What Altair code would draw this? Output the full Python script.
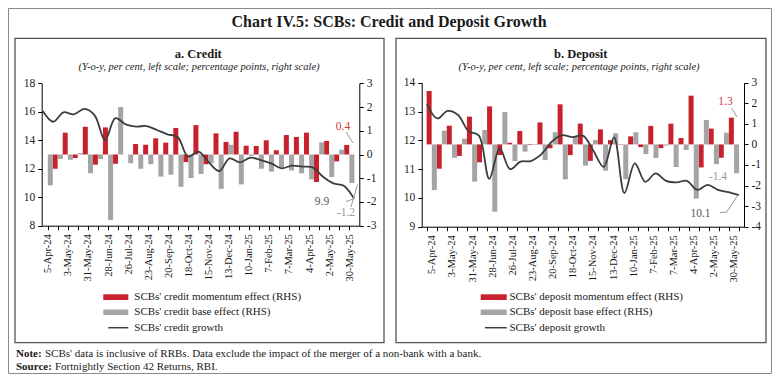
import altair as alt
import pandas as pd

# ---------------- data ----------------
dates = ['5-Apr-24', '19-Apr-24', '3-May-24', '17-May-24', '31-May-24', '14-Jun-24',
         '28-Jun-24', '12-Jul-24', '26-Jul-24', '9-Aug-24', '23-Aug-24', '6-Sep-24',
         '20-Sep-24', '4-Oct-24', '18-Oct-24', '1-Nov-24', '15-Nov-24', '29-Nov-24',
         '13-Dec-24', '27-Dec-24', '10-Jan-25', '24-Jan-25', '7-Feb-25', '21-Feb-25',
         '7-Mar-25', '21-Mar-25', '4-Apr-25', '18-Apr-25', '2-May-25', '16-May-25',
         '30-May-25']

credit_momentum = [None, -0.6, 0.92, -0.15, 1.17, -0.43, 1.14, -0.39, 0.0, 0.44, 0.41,
                   0.68, 0.5, 1.12, -0.32, 1.24, -0.41, 0.89, 0.53, 0.96, 0.37, 0.36,
                   0.6, 0.18, 0.82, 0.74, 0.92, -1.16, 0.57, -0.29, 0.4]
credit_base = [-1.3, -0.19, -0.22, 0.06, -0.79, -0.19, -2.76, 2.0, -0.37, -0.6, -0.41,
               -0.93, -0.85, -1.36, -0.99, -0.82, -0.37, -1.45, 0.41, -1.26, -0.06, -0.6,
               -0.72, -0.55, -0.67, -0.79, -1.05, 0.51, -0.95, 0.2, -1.2]
credit_growth = [16.05, 15.3, 15.96, 15.82, 16.2, 15.75, 14.0, 15.55, 15.12, 14.96, 15.0,
                 14.72, 14.42, 14.23, 12.85, 13.2, 12.45, 11.84, 12.73, 12.45, 12.78, 12.61,
                 12.38, 12.03, 12.22, 12.15, 12.1, 11.44, 10.97, 10.81, 9.9]

deposit_momentum = [2.6, -1.18, 0.91, -0.56, 1.35, -0.87, 1.85, -0.52, 0.08, 0.65, -0.03,
                    1.07, -0.19, 1.95, -0.52, 1.01, -0.8, 0.73, 0.21, -0.02, 0.39, -0.13,
                    0.9, -0.18, 1.01, 0.31, 2.37, -1.12, 0.77, -0.65, 1.3]
deposit_base = [-2.22, 0.67, -0.65, 0.28, -1.81, 0.7, -3.27, 1.57, -0.81, -0.35, -0.03,
                -0.76, 0.59, -1.7, 0.38, -1.03, 0.21, -1.28, 0.54, -1.69, 0.59, -0.47,
                -0.66, -0.06, -1.1, -0.27, -2.63, 1.19, -0.96, 0.57, -1.4]
deposit_growth = [13.25, 12.76, 13.02, 12.88, 12.32, 12.16, 10.66, 11.72, 11.0, 11.26, 11.28,
                  11.51, 11.95, 12.18, 12.11, 12.16, 11.65, 11.08, 12.1, 10.17, 11.2, 10.56,
                  10.85, 10.59, 10.54, 10.59, 10.28, 10.45, 10.28, 10.2, 10.1]

# ---------------- styling ----------------
W, H = 764, 366
RED = '#c8202d'
GRAY = '#a4a4a4'
LINE = '#3c3c3c'
FONT = 'Liberation Serif'
TXT = '#1a1a1a'

credit = pd.DataFrame({'idx': list(range(len(dates))), 'date': dates,
                       'mom': credit_momentum, 'base': credit_base, 'growth': credit_growth})
deposit = pd.DataFrame({'idx': list(range(len(dates))), 'date': dates,
                        'mom': deposit_momentum, 'base': deposit_base, 'growth': deposit_growth})
one = pd.DataFrame({'a': [0]})

label_expr = "[" + ",".join("'%s'" % d for d in dates) + "][datum.value]"
num_expr = "datum.value < 0 ? '-' + abs(datum.value) : '' + datum.value"


def panel(df, x_dom, x_rng, yl_dom, yr_dom, y_rng, yl_vals, yr_vals, tick_vals,
          off_left, off_right, off_x):
    xs = alt.Scale(domain=x_dom, range=x_rng, nice=False, zero=False)
    ysl = alt.Scale(domain=yl_dom, range=y_rng, nice=False, zero=False)
    ysr = alt.Scale(domain=yr_dom, range=y_rng, nice=False, zero=False)
    ax_labels = alt.Axis(orient='bottom', offset=off_x, values=list(range(0, 31, 2)),
                         labelExpr=label_expr, labelAngle=270, tickSize=0, domain=False,
                         labelPadding=8, labelFont=FONT, labelFontSize=10.5, labelColor=TXT,
                         labelOverlap=False, labelFlush=False, labelBound=False,
                         grid=False, title=None)
    ax_ticks = alt.Axis(orient='bottom', offset=off_x, values=tick_vals, labels=False,
                        tickSize=4, tickColor='#000', domainColor='#000', grid=False,
                        title=None)
    ax_left = alt.Axis(orient='left', offset=off_left, values=yl_vals, tickSize=4,
                       tickColor='#000', domainColor='#000', labelFont=FONT,
                       labelFontSize=11.5, labelColor=TXT, labelPadding=3, grid=False,
                       title=None, labelFlush=False)
    ax_right = alt.Axis(orient='right', offset=off_right, values=yr_vals, tickSize=4,
                        tickColor='#000', domainColor='#000', labelFont=FONT,
                        labelFontSize=11.5, labelColor=TXT, labelPadding=3, grid=False,
                        title=None, labelFlush=False, labelExpr=num_expr)
    base = alt.Chart(df)
    red = base.transform_filter('isValid(datum.mom)').mark_bar(
        size=5, xOffset=-2.6, color=RED, clip=True).encode(
        x=alt.X('idx:Q', scale=xs, axis=ax_labels),
        y=alt.Y('mom:Q', scale=ysr, axis=ax_right),
        y2=alt.datum(0))
    gray = base.mark_bar(size=5, xOffset=2.6, color=GRAY, clip=True).encode(
        x=alt.X('idx:Q', scale=xs, axis=ax_ticks),
        y=alt.Y('base:Q', scale=ysr, axis=None),
        y2=alt.datum(0))
    line = base.mark_line(interpolate='catmull-rom', color=LINE, strokeWidth=1.8).encode(
        x=alt.X('idx:Q', scale=xs, axis=None),
        y=alt.Y('growth:Q', scale=ysl, axis=ax_left))
    return [red, gray, line]


credit_layers = panel(credit, [-0.1, 30.5], [33.7, 351.3], [8, 18], [-3, 3], [217.7, 75.3],
                      list(range(8, 19, 2)), list(range(-3, 4)), list(range(0, 31)),
                      -33.7, 351.3 - W, 217.7 - H)
deposit_layers = panel(deposit, [-0.5, 30.5], [413.7, 736], [9, 14], [-4, 3], [218.7, 74.7],
                       list(range(9, 15)), list(range(-4, 4)), [k - 0.5 for k in range(32)],
                       -413.7, 736 - W, 218.7 - H)


def text(s, x, y, size=11, weight='normal', style='normal', color=TXT, align='center'):
    return alt.Chart(one).mark_text(font=FONT, fontSize=size, fontWeight=weight,
                                    fontStyle=style, color=color, align=align,
                                    baseline='middle').encode(
        x=alt.value(x), y=alt.value(y), text=alt.value(s))


def rect(x, x2, y, y2, fill=None, stroke=None, sw=1):
    kw = dict(fill=fill) if fill else dict(fillOpacity=0)
    if stroke:
        kw.update(stroke=stroke, strokeWidth=sw)
    return alt.Chart(one).mark_rect(**kw).encode(
        x=alt.value(x), x2=alt.value(x2), y=alt.value(y), y2=alt.value(y2))


def seg(x, y, x2, y2, color='#999', sw=1):
    return alt.Chart(one).mark_rule(color=color, strokeWidth=sw).encode(
        x=alt.value(x), y=alt.value(y), x2=alt.value(x2), y2=alt.value(y2))


decor = [
    rect(0.5, 763.5, 0.5, 365.5, stroke='#8a8a8a', sw=1),
    rect(7, 376, 30.3, 334.7, stroke='#555', sw=1.3),
    rect(388, 758, 30.3, 334.7, stroke='#555', sw=1.3),
    text('Chart IV.5: SCBs: Credit and Deposit Growth', 381, 13.7, size=16, weight='bold'),
    text('a. Credit', 190.3, 46, size=12.5, weight='bold'),
    text('(Y-o-y, per cent, left scale; percentage points, right scale)', 191, 58.7,
         size=10.5, style='italic'),
    text('b. Deposit', 572.7, 46, size=12.5, weight='bold'),
    text('(Y-o-y, per cent, left scale; percentage points, right scale)', 571, 58.7,
         size=10.5, style='italic'),
    # legends
    rect(95.3, 120.3, 286.3, 292, fill=RED),
    rect(95.3, 120.3, 301.5, 307, fill=GRAY),
    seg(100.3, 319.7, 120.3, 319.7, color=LINE, sw=1.5),
    text("SCBs' credit momentum effect (RHS)", 126.3, 288.7, align='left'),
    text("SCBs' credit base effect (RHS)", 126.3, 303.7, align='left'),
    text("SCBs' credit growth", 126.3, 319.7, align='left'),
    rect(472.7, 498.7, 286.3, 292, fill=RED),
    rect(472.7, 498.7, 301.5, 307, fill=GRAY),
    seg(477, 319.7, 498.7, 319.7, color=LINE, sw=1.5),
    text("SCBs' deposit momentum effect (RHS)", 501.5, 288.7, align='left'),
    text("SCBs' deposit base effect (RHS)", 501.5, 303.7, align='left'),
    text("SCBs' deposit growth", 501.5, 319.7, align='left'),
    # notes
    text('Note:', 8, 346, size=11, weight='bold', align='left'),
    text("SCBs' data is inclusive of RRBs. Data exclude the impact of the merger of a non-bank with a bank.",
         37, 346, size=11, align='left'),
    text('Source:', 8, 359.3, size=11, weight='bold', align='left'),
    text('Fortnightly Section 42 Returns, RBI.', 47, 359.3, size=11, align='left'),
    # annotations credit
    text('0.4', 335, 118.7, size=11.5, color='#d03a3a'),
    seg(338, 124, 345, 135),
    text('9.9', 314, 193.7, size=11.5, color='#555'),
    seg(338, 193.5, 346.7, 190.6),
    text('-1.2', 338, 204.7, size=11.5, color='#999'),
    seg(343, 199, 349.5, 176.5),
    # annotations deposit
    text('1.3', 717.5, 93.7, size=11.5, color='#d03a3a'),
    seg(723.7, 100.3, 729, 109),
    text('-1.4', 710, 168.7, size=11.5, color='#999'),
    text('10.1', 692.5, 205.7, size=11.5, color='#555'),
    seg(712, 204.7, 718.7, 204),
    seg(718.7, 204, 729.5, 187.5),
]

chart = alt.layer(*(credit_layers + deposit_layers + decor)).resolve_scale(
    x='independent', y='independent'
).properties(
    width=W, height=H, autosize=alt.AutoSizeParams(type='none'), padding=0,
    background='white'
).configure_view(stroke=None)

chart.save('out.html', embed_options={'renderer': 'svg', 'actions': False})
